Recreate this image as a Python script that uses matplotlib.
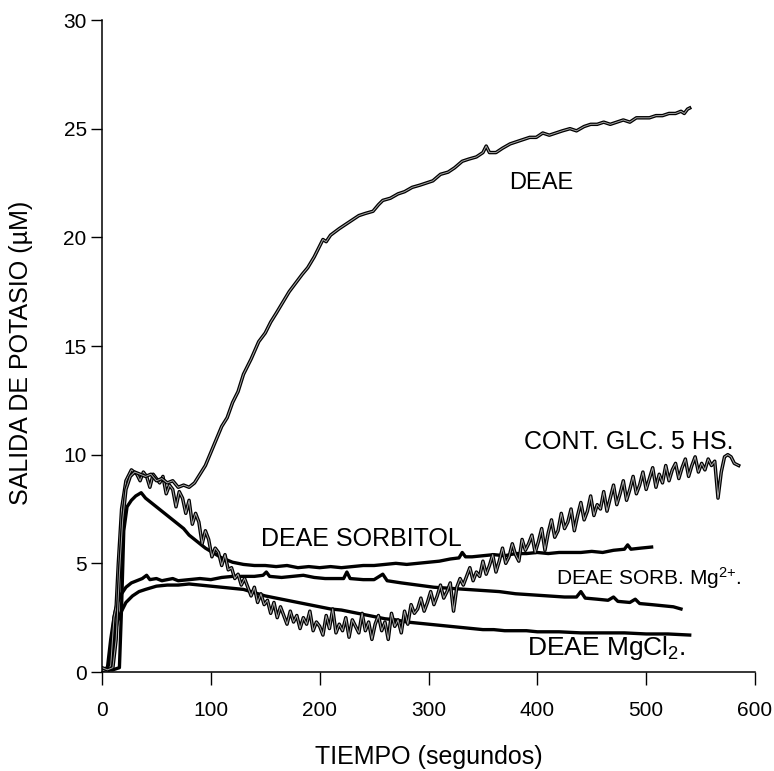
import matplotlib
matplotlib.use("Agg")
import matplotlib.pyplot as plt

plt.rcParams['font.family'] = ['Liberation Sans', 'DejaVu Sans']
plt.rcParams['mathtext.fontset'] = 'custom'
plt.rcParams['mathtext.rm'] = 'Liberation Sans'
plt.rcParams['mathtext.it'] = 'Liberation Sans'

# ---------------- data ----------------
deae_t = [0, 5, 10, 13, 16, 19, 22, 26, 30, 35, 40, 45, 50, 55, 60, 65, 70, 75, 80, 85,
          90, 95, 100, 105, 110, 115, 120, 125, 130, 137, 144, 150, 155, 160, 166, 172,
          178, 184, 189, 195, 200, 203, 206, 210, 218, 224, 230, 236, 242, 249, 254, 258,
          265, 272, 278, 285, 292, 298, 304, 311, 318, 324, 331, 337, 344, 350, 353, 356,
          362, 368, 375, 381, 387, 393, 399, 405, 411, 417, 423, 430, 436, 443, 449, 455,
          461, 467, 473, 479, 485, 491, 497, 503, 509, 515, 521, 527, 532, 535, 538, 540]
deae_y = [0.2, 0.1, 0.2, 1.5, 4.5, 7.0, 8.4, 9.0, 9.2, 9.1, 9.0, 9.1, 8.8, 8.9, 8.7, 8.8,
          8.5, 8.6, 8.5, 8.7, 9.1, 9.5, 10.1, 10.7, 11.3, 11.7, 12.4, 12.9, 13.7, 14.4,
          15.2, 15.6, 16.1, 16.5, 17.0, 17.5, 17.9, 18.3, 18.6, 19.1, 19.6, 19.9, 19.8,
          20.1, 20.4, 20.6, 20.8, 21.0, 21.1, 21.2, 21.5, 21.7, 21.8, 22.0, 22.1, 22.3,
          22.4, 22.5, 22.6, 22.9, 23.0, 23.2, 23.5, 23.6, 23.7, 23.9, 24.2, 23.9, 23.9,
          24.1, 24.3, 24.4, 24.5, 24.6, 24.6, 24.8, 24.7, 24.8, 24.9, 25.0, 24.9, 25.1,
          25.2, 25.2, 25.3, 25.2, 25.3, 25.4, 25.3, 25.5, 25.5, 25.5, 25.6, 25.6, 25.7,
          25.7, 25.8, 25.7, 25.9, 25.95]

glc_pts = [(0, 0.1), (5, 0.0), (8, 0.3), (11, 2.5), (13, 3.0), (15, 5.0), (18, 7.5),
           (22, 8.8), (27, 9.3), (32, 9.1), (35, 8.8), (38, 9.2), (41, 9.0), (44, 8.5),
           (47, 9.1), (50, 8.9), (53, 8.7), (56, 9.0), (59, 8.2), (62, 8.6), (65, 8.4),
           (68, 7.6), (71, 8.3), (74, 8.0), (77, 7.3), (80, 7.9), (83, 6.8), (86, 7.3),
           (89, 6.9), (92, 5.9), (95, 6.5), (98, 6.1), (101, 5.3), (104, 5.7), (107, 5.5),
           (110, 4.9), (113, 5.4), (116, 4.7), (119, 4.8), (122, 4.3), (125, 4.5),
           (128, 4.0), (131, 4.3), (134, 3.9), (137, 3.5), (140, 3.9), (143, 3.2),
           (146, 3.6), (149, 3.1), (152, 3.3), (155, 2.7), (158, 3.2), (161, 2.5),
           (164, 3.0), (167, 2.6), (170, 2.2), (173, 2.8), (176, 2.3), (179, 2.6),
           (182, 2.0), (185, 2.5), (188, 2.2), (191, 2.8), (194, 1.9), (197, 2.3),
           (200, 2.1), (203, 1.7), (206, 2.6), (209, 2.0), (212, 2.9), (215, 1.8),
           (218, 2.2), (221, 1.9), (224, 2.5), (227, 1.6), (230, 2.4), (233, 2.1),
           (236, 1.8), (239, 2.7), (242, 1.9), (245, 2.3), (248, 1.5), (251, 2.2),
           (254, 2.6), (257, 1.9), (260, 2.3), (263, 1.5), (266, 2.7), (269, 2.1),
           (272, 2.4), (275, 1.8), (278, 2.8), (281, 2.2), (284, 3.1), (287, 2.7),
           (290, 2.9), (293, 3.4), (296, 2.8), (299, 3.2), (302, 3.7), (305, 3.1),
           (308, 3.5), (311, 4.0), (314, 3.4), (317, 3.7), (320, 4.1), (323, 2.8),
           (326, 3.9), (329, 4.3), (332, 4.0), (335, 4.4), (338, 4.8), (341, 4.2),
           (344, 4.6), (347, 4.4), (350, 5.1), (353, 4.5), (356, 4.9), (359, 5.4),
           (362, 4.6), (365, 5.1), (368, 5.7), (371, 5.0), (374, 5.3), (377, 5.9),
           (380, 5.4), (383, 5.1), (386, 6.1), (389, 5.6), (392, 5.9), (395, 6.3),
           (398, 5.5), (401, 6.0), (404, 6.6), (407, 5.6), (410, 6.4), (413, 7.0),
           (416, 6.2), (419, 6.5), (422, 7.3), (425, 6.6), (428, 6.9), (431, 7.5),
           (434, 6.5), (437, 7.2), (440, 7.8), (443, 7.0), (446, 7.4), (449, 8.1),
           (452, 7.2), (455, 7.7), (458, 7.5), (461, 8.3), (464, 7.4), (467, 8.0),
           (470, 8.6), (473, 7.7), (476, 8.2), (479, 8.8), (482, 7.9), (485, 8.4),
           (488, 9.0), (491, 8.2), (494, 8.6), (497, 9.2), (500, 8.4), (503, 8.9),
           (506, 9.4), (509, 8.5), (512, 9.1), (515, 8.7), (518, 9.5), (521, 8.8),
           (524, 9.3), (527, 9.6), (530, 8.9), (533, 9.4), (536, 9.8), (539, 9.0),
           (542, 9.5), (545, 9.9), (548, 9.2), (551, 9.6), (554, 9.3), (557, 9.8),
           (560, 9.5), (563, 9.7), (566, 8.0), (569, 9.2), (572, 9.9), (575, 10.0),
           (578, 9.9), (581, 9.6), (585, 9.5)]
glc_t = [p[0] for p in glc_pts]
glc_y = [p[1] for p in glc_pts]

sorb_t = [0, 10, 16, 18, 20, 23, 27, 31, 36, 40, 45, 50, 55, 60, 65, 70, 75, 80, 85, 90,
          95, 100, 105, 110, 115, 120, 130, 140, 150, 160, 170, 180, 190, 200, 210, 220,
          230, 240, 250, 260, 270, 280, 290, 300, 310, 320, 328, 331, 334, 340, 350, 360,
          370, 380, 390, 400, 410, 420, 430, 440, 450, 460, 470, 480, 483, 486, 495, 505]
sorb_y = [0.1, 0.1, 0.2, 3.0, 6.5, 7.6, 7.9, 8.1, 8.25, 8.0, 7.8, 7.6, 7.4, 7.2, 7.0, 6.8,
          6.6, 6.3, 6.1, 5.9, 5.7, 5.55, 5.4, 5.25, 5.15, 5.05, 4.95, 4.9, 4.9, 4.85, 4.9,
          4.8, 4.85, 4.8, 4.85, 4.8, 4.85, 4.9, 4.9, 4.95, 5.0, 4.95, 5.0, 5.05, 5.1, 5.2,
          5.25, 5.5, 5.3, 5.3, 5.35, 5.4, 5.35, 5.45, 5.45, 5.5, 5.45, 5.5, 5.5, 5.5, 5.55,
          5.5, 5.6, 5.65, 5.85, 5.65, 5.7, 5.75]

sorbmg_t = [0, 5, 8, 11, 14, 18, 22, 27, 32, 37, 41, 44, 50, 55, 60, 65, 70, 80, 90, 100,
            110, 120, 130, 140, 148, 151, 154, 165, 175, 185, 195, 205, 215, 222, 225, 228,
            240, 250, 258, 262, 275, 290, 305, 320, 335, 350, 365, 380, 395, 410, 425, 436,
            440, 444, 455, 465, 470, 474, 485, 490, 494, 505, 515, 525, 532]
sorbmg_y = [0.1, 0.2, 1.5, 2.5, 3.2, 3.6, 3.9, 4.1, 4.2, 4.3, 4.45, 4.25, 4.3, 4.2, 4.25,
            4.3, 4.2, 4.25, 4.3, 4.25, 4.35, 4.4, 4.4, 4.4, 4.45, 4.6, 4.4, 4.35, 4.4, 4.45,
            4.35, 4.3, 4.3, 4.3, 4.6, 4.3, 4.25, 4.25, 4.5, 4.2, 4.1, 4.0, 3.9, 3.85, 3.8,
            3.75, 3.7, 3.6, 3.55, 3.5, 3.45, 3.45, 3.7, 3.4, 3.35, 3.3, 3.45, 3.25, 3.2,
            3.35, 3.15, 3.1, 3.05, 3.0, 2.9]

mgcl_t = [0, 8, 11, 14, 18, 22, 28, 34, 40, 50, 60, 70, 80, 90, 100, 110, 120, 130, 140,
          150, 160, 170, 180, 190, 200, 210, 220, 230, 240, 250, 260, 270, 280, 290, 300,
          310, 320, 330, 340, 350, 360, 370, 380, 390, 400, 420, 440, 460, 480, 500, 520, 540]
mgcl_y = [0.1, 0.2, 1.5, 2.3, 2.8, 3.2, 3.5, 3.7, 3.8, 3.95, 4.0, 4.0, 4.05, 4.0, 3.95,
          3.9, 3.85, 3.8, 3.65, 3.5, 3.4, 3.3, 3.2, 3.1, 3.0, 2.9, 2.85, 2.75, 2.65, 2.55,
          2.45, 2.4, 2.3, 2.25, 2.2, 2.15, 2.1, 2.05, 2.0, 1.95, 1.95, 1.9, 1.9, 1.9, 1.85,
          1.85, 1.8, 1.8, 1.8, 1.75, 1.75, 1.7]

x_ticks = [0, 100, 200, 300, 400, 500, 600]
y_ticks = [0, 5, 10, 15, 20, 25, 30]

# ---------------- figure ----------------
fig = plt.figure(figsize=(7.74, 7.71), dpi=100)
ax = fig.add_axes([102 / 774, 1 - 672 / 771, 653 / 774, 652 / 771])

for t, y in [(mgcl_t, mgcl_y), (sorbmg_t, sorbmg_y), (sorb_t, sorb_y)]:
    ax.plot(t, y, color='black', lw=2.4, solid_joinstyle='round')
for t, y in [(glc_t, glc_y), (deae_t, deae_y)]:
    ax.plot(t, y, color='black', lw=2.5, solid_joinstyle='round')
    ax.plot(t, y, color='#a8a8a8', lw=0.7, solid_joinstyle='round')

ax.set_xlim(0, 600)
ax.set_ylim(0, 30)
ax.set_xticks(x_ticks)
ax.set_yticks(y_ticks)
ax.spines['top'].set_visible(False)
ax.spines['right'].set_visible(False)
ax.spines['left'].set_linewidth(1.1)
ax.spines['bottom'].set_linewidth(1.1)
ax.tick_params(axis='x', direction='out', length=9, width=1.0, pad=12, labelsize=15)
ax.tick_params(axis='y', direction='out', length=8, width=1.0, pad=3, labelsize=15)

ax.set_xlabel('TIEMPO (segundos)', fontsize=18)
ax.set_ylabel('SALIDA DE POTASIO (µM)', fontsize=18)
ax.xaxis.set_label_coords(0.5, -0.112)
ax.yaxis.set_label_coords(-0.105, 0.49)

ax.text(404, 22.5, 'DEAE', fontsize=17, ha='center', va='center')
ax.text(484, 10.6, 'CONT. GLC. 5 HS.', fontsize=18, ha='center', va='center')
ax.text(238, 6.1, 'DEAE SORBITOL', fontsize=18, ha='center', va='center')
ax.text(502, 4.3, r'DEAE SORB. Mg$^{2{+}}$.', fontsize=15, ha='center', va='center')
ax.text(463, 1.1, r'DEAE MgCl$_{2}$.', fontsize=19, ha='center', va='center')

fig.savefig('out.png', dpi=100)
